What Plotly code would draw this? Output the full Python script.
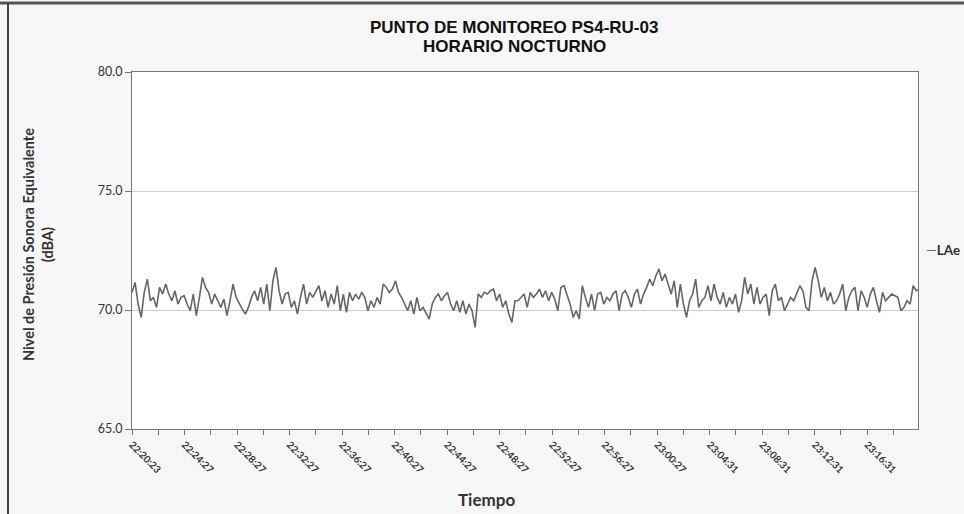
import plotly.graph_objects as go

# ---------------- data ----------------
tick_labels = ["22:20:23", "22:24:27", "22:28:27", "22:32:27", "22:36:27", "22:40:27",
               "22:44:27", "22:48:27", "22:52:27", "22:56:27", "23:00:27", "23:04:31",
               "23:08:31", "23:12:31", "23:16:31"]
label_spacing_s = 240          # seconds between labelled categories
sample_step_s = 14             # seconds between samples

laeq = [
    70.74, 71.16, 70.25, 69.69, 70.74, 71.30, 70.39, 70.53, 70.11, 70.95,
    70.67, 71.09, 70.67, 70.39, 70.81, 70.25, 70.53, 70.60, 70.25, 69.97,
    70.67, 69.76, 70.53, 71.37, 70.95, 70.74, 70.25, 70.67, 70.39, 70.11,
    70.46, 69.76, 70.39, 71.09, 70.53, 70.25, 70.04, 69.83, 70.11, 70.53,
    70.81, 70.39, 70.95, 70.25, 71.09, 69.97, 71.23, 71.79, 70.81, 70.25,
    70.67, 70.74, 70.11, 70.39, 69.83, 70.53, 71.09, 70.25, 70.74, 70.53,
    70.81, 71.02, 70.39, 70.81,
    70.11, 70.67, 70.25, 71.02, 69.97, 70.67, 69.90, 70.74, 70.39, 70.67,
    70.46, 70.74, 70.53, 69.97, 70.39, 70.11, 70.53, 70.25, 71.09, 70.95,
    70.74, 70.88, 71.23, 70.74, 70.53, 70.25, 69.97, 70.39, 69.83, 70.53,
    69.97, 70.11, 69.83, 69.62, 70.25, 70.53, 70.67, 70.39, 70.60, 70.74,
    70.25, 69.97, 70.39, 69.90, 70.39, 69.83, 70.25, 69.97, 69.27, 70.67,
    70.53, 70.74, 70.67, 70.81, 70.88, 70.39, 70.67, 70.11, 70.39, 69.83,
    69.48, 70.39, 70.39, 70.53, 70.67,
    70.11, 70.74, 70.53, 70.67, 70.88, 70.53, 70.81, 70.39, 70.74, 70.46,
    69.97, 70.95, 71.02, 70.67, 70.25, 69.69, 69.97, 69.62, 71.02, 70.53,
    70.11, 70.67, 69.97, 70.67, 70.74, 70.25, 70.53, 70.39, 70.67, 70.81,
    69.97, 70.67, 70.81, 70.53, 70.11, 70.67, 70.88, 70.25, 70.67, 70.95,
    71.30, 71.02, 71.44, 71.72, 71.23, 71.51, 71.09, 70.67, 71.23, 70.11,
    71.09, 70.25, 69.69, 70.39, 70.67, 71.30, 70.11, 70.39, 70.53, 71.02,
    70.39, 71.09, 70.53, 70.25, 70.74,
    70.11, 70.53, 70.25, 70.67, 69.90, 70.39, 71.37, 70.67, 71.09, 70.25,
    70.95, 70.25, 70.53, 70.67, 69.76, 70.81, 71.09, 70.39, 70.53, 69.97,
    70.25, 70.53, 70.39, 70.67, 71.02, 70.81, 70.11, 69.97, 71.23, 71.79,
    71.23, 70.53, 70.95, 70.39, 70.74, 70.25, 70.39, 70.67, 71.09, 69.97,
    70.53, 70.81, 70.95, 69.97, 70.81, 70.53, 70.11, 70.67, 70.95, 70.39,
    69.90, 70.74, 70.39, 70.53, 70.67, 70.60, 70.53, 69.97, 70.11, 70.39,
    70.25, 71.02, 70.81, 70.88, 71.16, 70.67, 70.25, 70.39, 69.97, 69.83,
]
series_name = "LAe"

# ---------------- layout geometry ----------------
W, H = 964, 514
L, R, T, B = 132, 918, 72, 429
PW, PH = R - L, B - T

def px(x):  # pixel -> paper x
    return (x - L) / PW

def py(y):  # pixel -> paper y
    return (B - y) / PH

seconds = [i * sample_step_s for i in range(len(laeq))]
label_pos = [k * label_spacing_s for k in range(len(tick_labels))]
tickvals, ticktext = [], []
for k, p in enumerate(label_pos):
    tickvals += [p, p + label_spacing_s / 2]
    ticktext += ["<b>" + tick_labels[k] + "</b>", ""]

fig = go.Figure()
fig.add_trace(go.Scatter(x=seconds, y=laeq, mode="lines", name=series_name,
                         line=dict(color="#666666", width=1.6), showlegend=False))

axis_font = dict(family="Lato, Noto Sans, sans-serif", color="#333333")
fig.update_layout(
    width=W, height=H,
    margin=dict(l=L, r=W - R, t=T, b=H - B),
    paper_bgcolor="#f7f7f7", plot_bgcolor="#ffffff",
    xaxis=dict(range=[0, 3592], tickmode="array", tickvals=tickvals, ticktext=ticktext,
               tickangle=45, ticks="outside", ticklen=5, tickcolor="#777777",
               showline=True, linecolor="#777777", linewidth=1, mirror=True,
               showgrid=False, zeroline=False,
               tickfont=dict(size=10, **axis_font)),
    yaxis=dict(range=[65, 80], dtick=5, tickformat=".1f", ticks="outside", ticklen=6,
               tickcolor="#777777", showline=True, linecolor="#777777", linewidth=1,
               mirror=True, showgrid=True, gridcolor="#cccccc", gridwidth=1,
               zeroline=False, tickfont=dict(size=12.5, **axis_font)),
    font=dict(family="Lato, Noto Sans, sans-serif"),
)

title_font = dict(family="Liberation Sans Narrow, Arial Narrow, Liberation Sans, sans-serif",
                  size=17, color="#111111")
fig.add_annotation(x=px(514), y=py(27), xref="paper", yref="paper", showarrow=False,
                   text="<b>PUNTO DE MONITOREO PS4-RU-03</b>", font=title_font,
                   xanchor="center", yanchor="middle")
fig.add_annotation(x=px(514), y=py(46), xref="paper", yref="paper", showarrow=False,
                   text="<b>HORARIO NOCTURNO</b>", font=title_font,
                   xanchor="center", yanchor="middle")
fig.add_annotation(x=px(38), y=py(245), xref="paper", yref="paper", showarrow=False,
                   text="<b>Nivel de Presión Sonora Equivalente<br>(dBA)</b>", textangle=-90,
                   font=dict(size=14.5, family="Lato, Noto Sans, sans-serif", color="#333333"),
                   xanchor="center", yanchor="middle")
fig.add_annotation(x=px(486), y=py(499), xref="paper", yref="paper", showarrow=False,
                   text="<b>Tiempo</b>",
                   font=dict(size=17, family="Lato, Noto Sans, sans-serif", color="#333333"),
                   xanchor="center", yanchor="middle")
fig.add_annotation(x=px(924), y=py(250), xref="paper", yref="paper", showarrow=False,
                   text="<span style='color:#666666'>—</span><b>" + series_name + "</b>",
                   font=dict(size=13.5, family="Lato, Noto Sans, sans-serif", color="#333333"),
                   xanchor="left", yanchor="middle")

# scanned page frame
fig.add_shape(type="line", xref="paper", yref="paper", x0=px(0), x1=px(964), y0=py(3), y1=py(3),
              line=dict(color="#555555", width=3))
fig.add_shape(type="line", xref="paper", yref="paper", x0=px(8), x1=px(8), y0=py(3), y1=py(514),
              line=dict(color="#444444", width=2))

fig.write_html("out.html")
